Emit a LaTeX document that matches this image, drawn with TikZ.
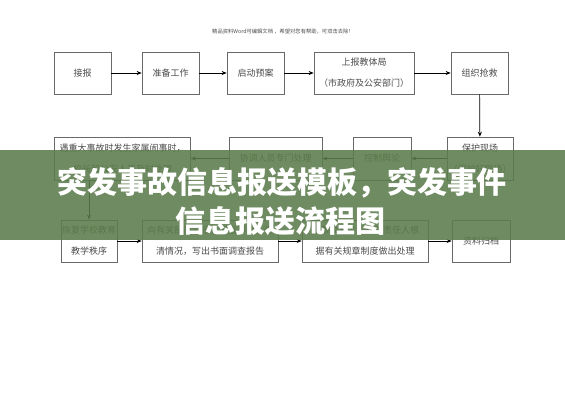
\documentclass[tikz,border=0pt]{standalone}
\usepackage{fontspec}
\setmainfont{Noto Sans CJK SC}
\usepackage{tikz}
\usetikzlibrary{arrows.meta, positioning}
\usepackage{xcolor}
\definecolor{boxgray}{RGB}{105,105,105}
\definecolor{txtgray}{RGB}{75,75,75}
\definecolor{banner}{RGB}{92,124,76}
\tikzset{
  flowbox/.style={draw=boxgray, line width=0.7pt, minimum height=42pt, inner sep=1pt,
    align=center, text=txtgray, font=\fontsize{9}{21}\selectfont},
  flowarrow/.style={-{Stealth[length=5pt,width=4pt]}, line width=0.7pt, black}
}

\begin{document}
\begin{tikzpicture}[x=1pt,y=-1pt]
        \useasboundingbox (0,0) rectangle (565,400);
        \fill[white] (0,0) rectangle (565,400);

        \node[text=txtgray, font=\fontsize{5.3}{6}\selectfont] (note) at (283,32) {精品资料Word可编辑文档 ，希望对您有帮助，可双击去除！};

        % first row
        \node[flowbox, minimum width=57pt] (jiebao) at (82.5,73) {接报};
        \node[flowbox, minimum width=57pt] (zhunbei) at (170.5,73) {准备工作};
        \node[flowbox, minimum width=57pt] (qidong) at (255.5,73) {启动预案};
        \node[flowbox, minimum width=100pt] (shangbao) at (364,73) {上报教体局\\（市政府及公安部门）};
        \node[flowbox, minimum width=57pt] (zuzhi) at (479.5,73) {组织抢救};

        % second row
        \node[flowbox, minimum width=66pt, minimum height=43pt] (baohu) at (480,158.5) {保护现场\\（保护好现场）};
        \node[flowbox, minimum width=58pt, minimum height=43pt] (kongzhi) at (382,158.5) {控制舆论};
        \node[flowbox, minimum width=93pt, minimum height=43pt] (xietiao) at (275.5,158.5) {协调人员专门处理};
        \node[flowbox, minimum width=136pt, minimum height=43pt] (yuzhong) at (122.5,158.5) {遇重大事故时发生家属闹事时，\\校长和公安人员及时处理};

        % third row
        \node[flowbox, minimum width=56pt] (huifu) at (89,241) {恢复学校教育\\教学秩序};
        \node[flowbox, minimum width=136pt] (xiang) at (210,241) {向有关部门汇报，调查事故，查\\清情况，写出书面调查报告};
        \node[flowbox, minimum width=126pt] (dui) at (365,241) {对事故发生的有关责任人根\\据有关规章制度做出处理};
        \node[flowbox, minimum width=58pt] (ziliao) at (481,241) {资料归档};

        \draw[flowarrow] (jiebao) -- (zhunbei);
        \draw[flowarrow] (zhunbei) -- (qidong);
        \draw[flowarrow] (qidong) -- (shangbao);
        \draw[flowarrow] (shangbao) -- (zuzhi);
        \draw[flowarrow] (zuzhi) -- (baohu);
        \draw[flowarrow] (baohu) -- (kongzhi);
        \draw[flowarrow] (kongzhi) -- (xietiao);
        \draw[flowarrow] (xietiao) -- (yuzhong);
        \draw[flowarrow] (yuzhong.south -| huifu.north) -- (huifu.north);
        \draw[flowarrow] (huifu) -- (xiang);
        \draw[flowarrow] (xiang) -- (dui);
        \draw[flowarrow] (dui) -- (ziliao);

        % banner
        \fill[banner, opacity=0.88] (0,150) rectangle (565,240);
        \node[text=white, font=\bfseries\fontsize{30}{31}\selectfont] (title) at (282,183) {突发事故信息报送模板，突发事件};
        \node[text=white, font=\bfseries\fontsize{30}{31}\selectfont] (subtitle) at (280,221) {信息报送流程图};
    \end{tikzpicture}
\end{document}
